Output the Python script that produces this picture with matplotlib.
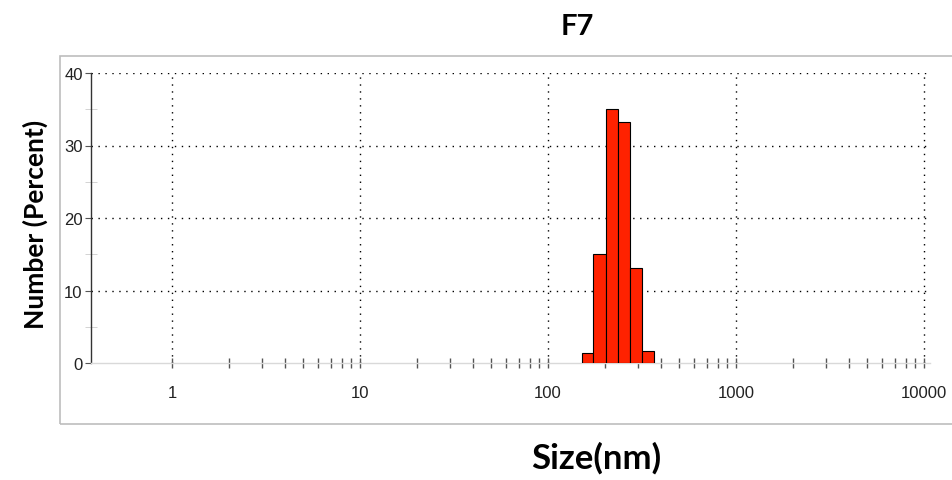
import numpy as np
import matplotlib
matplotlib.use("Agg")
import matplotlib.pyplot as plt
from matplotlib.patches import Rectangle
from matplotlib.ticker import FixedLocator, NullFormatter

# data ----------------------------------------------------------------
bin_edges = [151, 174, 204, 237, 273, 315, 366]   # nm, log-spaced bins
number_pct = [1.4, 15.0, 35.0, 33.3, 13.1, 1.6]   # Number (Percent)
x_major = [1, 10, 100, 1000, 10000]
x_labels = ["1", "10", "100", "1000", "10000"]
y_major = [0, 10, 20, 30, 40]
title = "F7"
# ---------------------------------------------------------------------

plt.rcParams['font.family'] = ['Liberation Sans', 'DejaVu Sans']

fig = plt.figure(figsize=(9.52, 4.81), dpi=100)

# gray frame around plot area
fig.patches.append(Rectangle((60 / 952, 1 - 425 / 481), 900 / 952, 368 / 481,
                             transform=fig.transFigure, fill=False,
                             edgecolor="#bdbdbd", linewidth=1.2))

ax = fig.add_axes([91 / 952, 1 - 364 / 481, (930 - 91) / 952, (364 - 74) / 481])

edges = np.array(bin_edges, dtype=float)
widths = np.diff(edges)
ax.bar(edges[:-1], number_pct, width=widths, align="edge",
       color="#ff2200", edgecolor="black", linewidth=0.8, zorder=3)

ax.set_xscale("log")
ax.set_xlim(10 ** -0.431, 10 ** 4.032)
ax.set_ylim(0, 40)

ax.xaxis.set_major_locator(FixedLocator(x_major))
ax.set_xticklabels(x_labels)
minors = [m * 10 ** d for d in range(0, 4) for m in range(2, 10)]
ax.xaxis.set_minor_locator(FixedLocator(minors))
ax.xaxis.set_minor_formatter(NullFormatter())
ax.yaxis.set_major_locator(FixedLocator(y_major))
ax.yaxis.set_minor_locator(FixedLocator([5, 15, 25, 35]))

ax.grid(True, which="major", linestyle=(0, (1, 4)), color="black",
        linewidth=1.0, zorder=0)
# no dotted line along zero
ax.get_ygridlines()[0].set_visible(False)

for s in ["top", "right"]:
    ax.spines[s].set_visible(False)
ax.spines["left"].set_color("#333333")
ax.spines["left"].set_linewidth(1.0)
ax.spines["bottom"].set_color("#d9d9d9")
ax.spines["bottom"].set_linewidth(1.0)

ax.tick_params(axis="x", which="both", direction="inout", length=7,
               color="#555555", width=1.0, labelsize=12, pad=12,
               labelcolor="#222222")
ax.tick_params(axis="y", which="major", direction="out", length=4,
               color="#555555", labelsize=12, pad=2, labelcolor="#222222")
ax.tick_params(axis="y", which="minor", direction="inout", length=8,
               color="#cccccc")

fig.text(577 / 952, 1 - 27 / 481, title, fontsize=21, fontweight="bold",
         family=["Lato", "DejaVu Sans"], ha="center", va="center")
fig.text(596 / 952, 1 - 458 / 481, "Size(nm)", fontsize=25, fontweight="bold",
         family=["Lato", "DejaVu Sans"], ha="center", va="center")
fig.text(35 / 952, 1 - 224 / 481, "Number (Percent)", fontsize=19,
         fontweight="bold", family=["Lato", "DejaVu Sans"], rotation=90,
         ha="center", va="center")

fig.savefig("out.png", dpi=100)
